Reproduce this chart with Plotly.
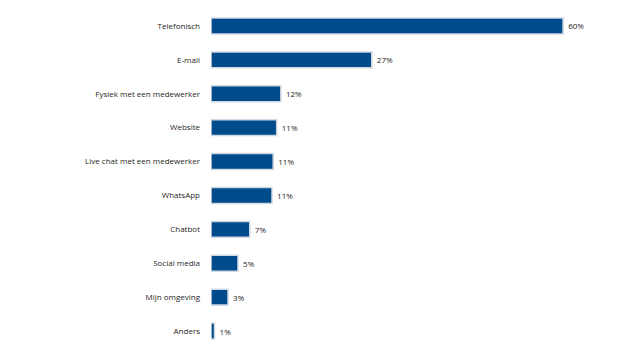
import plotly.graph_objects as go

categories = ["Telefonisch", "E-mail", "Fysiek met een medewerker", "Website",
              "Live chat met een medewerker", "WhatsApp", "Chatbot",
              "Social media", "Mijn omgeving", "Anders"]
values = [60.0, 27.4, 11.9, 11.2, 10.6, 10.4, 6.6, 4.6, 2.9, 0.6]
labels = ["60%", "27%", "12%", "11%", "11%", "11%", "7%", "5%", "3%", "1%"]

fig = go.Figure(go.Bar(
    x=values, y=categories, orientation="h",
    text=labels, texttemplate=" %{text}", textposition="outside", cliponaxis=False,
    textfont=dict(family="Open Sans", size=8, color="#262626"),
    marker=dict(color="#004b8c", line=dict(color="#cfd9e4", width=1.5)),
    width=0.47,
))
fig.update_layout(
    width=637, height=352,
    margin=dict(l=211, r=0, t=9, b=4),
    plot_bgcolor="white", paper_bgcolor="white",
    showlegend=False,
    font=dict(family="Open Sans", size=8, color="#262626"),
    xaxis=dict(range=[0, 72.6], visible=False, fixedrange=True),
    yaxis=dict(categoryorder="array", categoryarray=categories[::-1],
               showgrid=False, showline=False, zeroline=False,
               ticks="", ticklabelstandoff=10,
               tickfont=dict(family="Open Sans", size=8, color="#262626")),
    bargap=0.53,
)
fig.write_html("out.html")
